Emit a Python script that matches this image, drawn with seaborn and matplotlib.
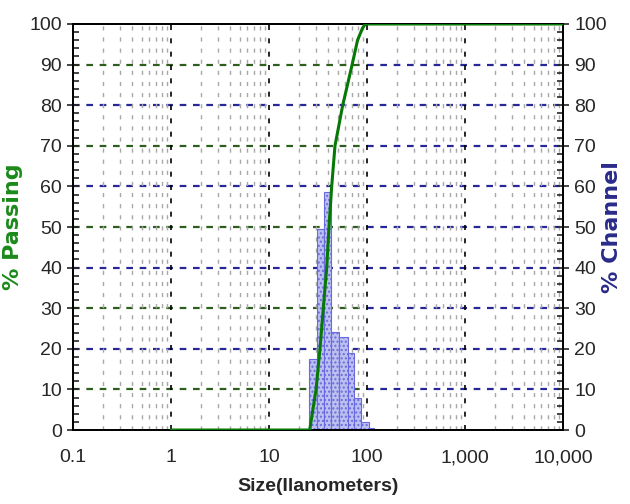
import matplotlib
matplotlib.use("Agg")
import matplotlib.pyplot as plt
import numpy as np
import pandas as pd
import seaborn as sns

# 累积通过率曲线（粒径 nm, % Passing）
passing_size = [1, 26.0, 30.2, 33.1, 35.8, 38.8, 40.9, 43.6, 47.1, 56.5, 70.5, 80, 90, 96, 10000]
passing_pct = [0, 0, 10, 20, 30, 40, 50, 60, 70, 80, 90, 96, 99, 100, 100]

# 各通道百分比（柱状图）
channel_edges = [25.8, 30.7, 36.4, 42.6, 52.2, 64.4, 73.7, 86.9, 104, 117.8]
channel_pct = [17.5, 49.4, 58.6, 24.2, 23.0, 19.0, 7.8, 2.0, 0.5]

x_ticks = [0.1, 1, 10, 100, 1000, 10000]
x_tick_labels = ["0.1", "1", "10", "100", "1,000", "10,000"]
y_ticks = list(range(0, 101, 10))

sns.set_style("white")
plt.rcParams["font.family"] = ["Liberation Sans", "DejaVu Sans"]

fig = plt.figure(figsize=(6.3, 5.04), dpi=100)
ax = fig.add_axes([0.1159, 0.1468, 0.7778, 0.8056])
ax.set_xscale("log")

# 网格线
green = "#2e5e1e"
blue = "#27279a"
for y in y_ticks[1:-1]:
    if y % 20 == 0:
        ax.hlines(y, 0.1, 10000, colors=blue, linestyles=(0, (3, 3)), lw=1.6, zorder=0)
    else:
        ax.hlines(y, 0.1, 100, colors=green, linestyles=(0, (3, 3)), lw=1.6, zorder=0)
        ax.hlines(y, 100, 10000, colors=blue, linestyles=(0, (3, 3)), lw=1.6, zorder=0)
for d in x_ticks[1:-1]:
    ax.axvline(d, color="black", ls=(0, (3, 5)), lw=1.2, zorder=0)
for d in x_ticks[:-1]:
    for m in range(2, 10):
        ax.axvline(d * m, color="#a8a8a8", ls=(0, (3, 5)), lw=1.0, zorder=0)

# 柱状图
centers = np.sqrt(np.array(channel_edges[:-1]) * np.array(channel_edges[1:]))
df_ch = pd.DataFrame({"size": centers, "pct": channel_pct})
log_edges = [float(v) for v in np.log10(channel_edges)]
sns.histplot(data=df_ch, x="size", weights="pct", bins=log_edges, ax=ax,
             stat="count", element="bars", fill=True, color="#bcc0f0", alpha=1,
             edgecolor="#6a6ae0", linewidth=0.8, hatch="....", zorder=2)

ax2 = ax.twinx()
sns.lineplot(x=passing_size, y=passing_pct, ax=ax2, color="#067806", lw=2.2, zorder=3)

for a in (ax, ax2):
    a.set_xlim(0.1, 10000)
    a.set_ylim(0, 100)
    a.set_yticks(y_ticks)
    a.set_yticks(range(0, 101, 2), minor=True)
    for s in a.spines.values():
        s.set_color("black")
        s.set_linewidth(1.3)

ax.set_xticks(x_ticks)
ax.set_xticklabels(x_tick_labels)
ax.set_xticks([d * m for d in x_ticks[:-1] for m in range(2, 10)], minor=True)
ax.tick_params(axis="x", which="major", direction="out", length=8, width=1.2, labelsize=14, pad=6)
ax.tick_params(axis="x", which="minor", direction="out", length=6, width=1.2)
ax.tick_params(axis="y", which="major", direction="inout", length=9, width=1.2, labelsize=14,
               left=True, right=False)
ax.tick_params(axis="y", which="minor", direction="in", length=4, width=1.2, left=True, right=False)
ax2.tick_params(axis="y", which="major", direction="inout", length=9, width=1.2, labelsize=14)
ax2.tick_params(axis="y", which="minor", direction="in", length=4, width=1.2)

ax.set_xlabel("Size(Ilanometers)", fontsize=14, fontweight="bold", labelpad=8)
ax.set_ylabel("% Passing", fontsize=16, fontweight="bold", color="#1a8a1a",
              family=["DejaVu Sans"])
ax.yaxis.set_label_coords(-0.102, 0.5)
ax2.set_ylabel("% Channel", fontsize=16, fontweight="bold", color="#2a2a8a",
               family=["DejaVu Sans"], rotation=90)
ax2.yaxis.set_label_coords(1.080, 0.5)

fig.savefig("out.png", dpi=100)
